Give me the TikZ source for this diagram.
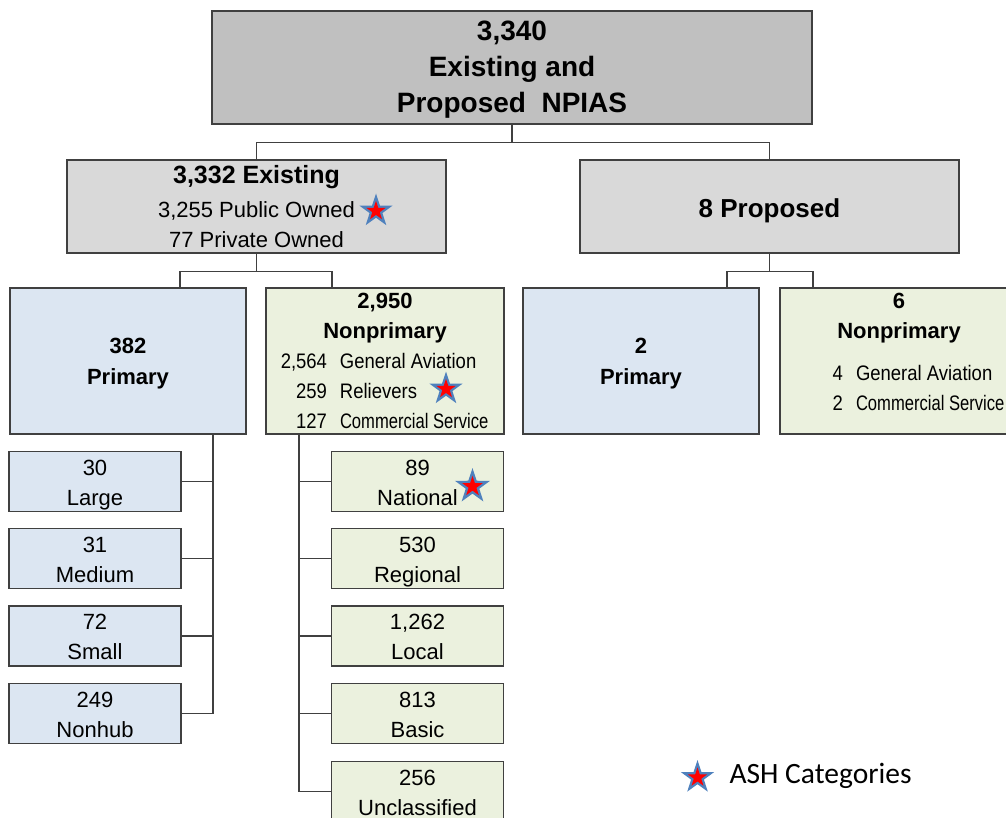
\documentclass[tikz,border=0pt]{standalone}
\usepackage{fontspec}
\setmainfont{Liberation Sans}
\setsansfont{Liberation Sans}
\newfontfamily\narrowfont[FakeStretch=0.88]{Liberation Sans}
\newfontfamily\narrowerfont[FakeStretch=0.79]{Liberation Sans}
\newfontfamily\legendfont{Carlito}
\usepackage{tikz}
\usetikzlibrary{shapes.geometric,positioning}
\definecolor{npiasgray}{HTML}{C0C0C0}
\definecolor{existgray}{HTML}{D9D9D9}
\definecolor{primblue}{HTML}{DCE6F2}
\definecolor{nonpgreen}{HTML}{EBF1DE}
\definecolor{framegray}{HTML}{404040}
\definecolor{starblue}{HTML}{4F81BD}
\newcommand{\npline}[4]{\makebox[#1][r]{\narrowfont #2}\hspace{13pt}\makebox[#3][l]{#4}}

\begin{document}
\begin{tikzpicture}[
  x=1pt, y=-1pt,
  box/.style={rectangle, draw=framegray, line width=1.5pt, fill=#1,
    align=center, inner sep=0pt, text depth=5pt},
  npias/.style={box=npiasgray, minimum width=600pt, minimum height=113pt,
    font=\bfseries\fontsize{28}{36}\selectfont, text height=96pt},
  group/.style={box=existgray, minimum width=379pt, minimum height=93pt},
  prim/.style={box=primblue, minimum width=236pt, minimum height=146pt,
    font=\bfseries\fontsize{22}{31}\selectfont, text height=52pt},
  nonprim/.style={box=nonpgreen, minimum width=238pt, minimum height=146pt},
  leafp/.style={box=primblue, minimum width=172pt, minimum height=60pt,
    font=\fontsize{22}{30}\selectfont, text height=52pt},
  leafn/.style={box=nonpgreen, minimum width=172pt, minimum height=60pt,
    font=\fontsize{22}{30}\selectfont, text height=52pt},
  wire/.style={line width=1.5pt, draw=framegray},
  ashstar/.style={star, star points=5, star point ratio=2.6, fill=starblue,
    minimum size=#1, inner sep=0pt,
    label={[star, star points=5, star point ratio=2.6, fill=red,
      minimum size=0.58*#1, inner sep=0pt]center:{}}}
]
\useasboundingbox (0,0) rectangle (1006,818);

\node[npias] (total) at (512,67.5) {3,340\\Existing and\\Proposed \ NPIAS};

\node[group, font=\fontsize{22}{31}\selectfont, text height=88pt] (existing) at (256.5,206.5)
  {{\bfseries\fontsize{25}{31}\selectfont 3,332 Existing}\\[2pt]3,255 Public Owned\\77 Private Owned};
\node[group, font=\bfseries\fontsize{26}{30}\selectfont, text height=26.6pt] (proposed) at (769.5,206.5) {8 Proposed};

\node[prim] (primary) at (128,361) {382\\Primary};
\node[nonprim, font=\fontsize{21}{30}\selectfont, text height=139pt] (nonprimary) at (385,361)
  {{\bfseries\fontsize{22}{30}\selectfont 2,950}\\{\bfseries\fontsize{22}{30}\selectfont Nonprimary}\\
   \npline{47pt}{2,564}{150pt}{\narrowfont General Aviation}\\
   \npline{47pt}{259}{150pt}{\narrowfont Relievers}\\
   \npline{47pt}{127}{150pt}{\narrowerfont Commercial Service}};
\node[prim] (pprimary) at (641,361) {2\\Primary};
\node[nonprim] (pnonprim) at (899,361) {};
\node[align=center, font=\fontsize{21}{30}\selectfont] (pnpinfo) at (899,352)
  {{\bfseries\fontsize{22}{30}\selectfont 6}\\{\bfseries\fontsize{22}{30}\selectfont Nonprimary}\\[12pt]
   \npline{10pt}{4}{109pt}{\narrowfont General Aviation}\\
   \npline{10pt}{2}{109pt}{\narrowerfont Commercial Service}};

% primary hubs
\node[leafp] (large) at (95,481.5) {30\\Large};
\node[leafp] (medium) at (95,558.5) {31\\Medium};
\node[leafp] (small) at (95,636) {72\\Small};
\node[leafp] (nonhub) at (95,713.5) {249\\Nonhub};

% nonprimary categories
\node[leafn] (national) at (417.5,481.5) {89\\National};
\node[leafn] (regional) at (417.5,558.5) {530\\Regional};
\node[leafn] (local) at (417.5,636) {1,262\\Local};
\node[leafn] (basic) at (417.5,713.5) {813\\Basic};
\node[leafn] (unclassified) at (417.5,791.5) {256\\Unclassified};

\draw[wire] (total.south) -- ++(0,18) coordinate (topfork);
\draw[wire] (existing.north) |- (topfork) -| (proposed.north);
\draw[wire] (existing.south) -- ++(0,18) coordinate (exfork);
\draw[wire] ([xshift=52pt]primary.north) |- (exfork) -| ([xshift=-53pt]nonprimary.north);
\draw[wire] (proposed.south) -- ++(0,18) coordinate (prfork);
\draw[wire] ([xshift=86pt]pprimary.north) |- (prfork) -| ([xshift=-86pt]pnonprim.north);

\coordinate (pspine) at ([xshift=85pt]primary.south);
\draw[wire] (pspine) |- (nonhub.east);
\draw[wire] (large.east) -- (large.east -| pspine);
\draw[wire] (medium.east) -- (medium.east -| pspine);
\draw[wire] (small.east) -- (small.east -| pspine);

\coordinate (nspine) at ([xshift=-86pt]nonprimary.south);
\draw[wire] (nspine) |- (unclassified.west);
\draw[wire] (national.west) -- (national.west -| nspine);
\draw[wire] (regional.west) -- (regional.west -| nspine);
\draw[wire] (local.west) -- (local.west -| nspine);
\draw[wire] (basic.west) -- (basic.west -| nspine);

% ASH markers
\node[ashstar=35pt] (starpublic) at (376,211) {};
\node[ashstar=35pt] (starreliever) at (446,389) {};
\node[ashstar=37pt] (starnational) at (472.5,486.5) {};
\node[ashstar=35pt] (starlegend) at (697.5,777.5) {};
\node[anchor=west, font=\legendfont\fontsize{29.5}{30}\selectfont] (legend) at (726,776) {ASH Categories};

\end{tikzpicture}
\end{document}
